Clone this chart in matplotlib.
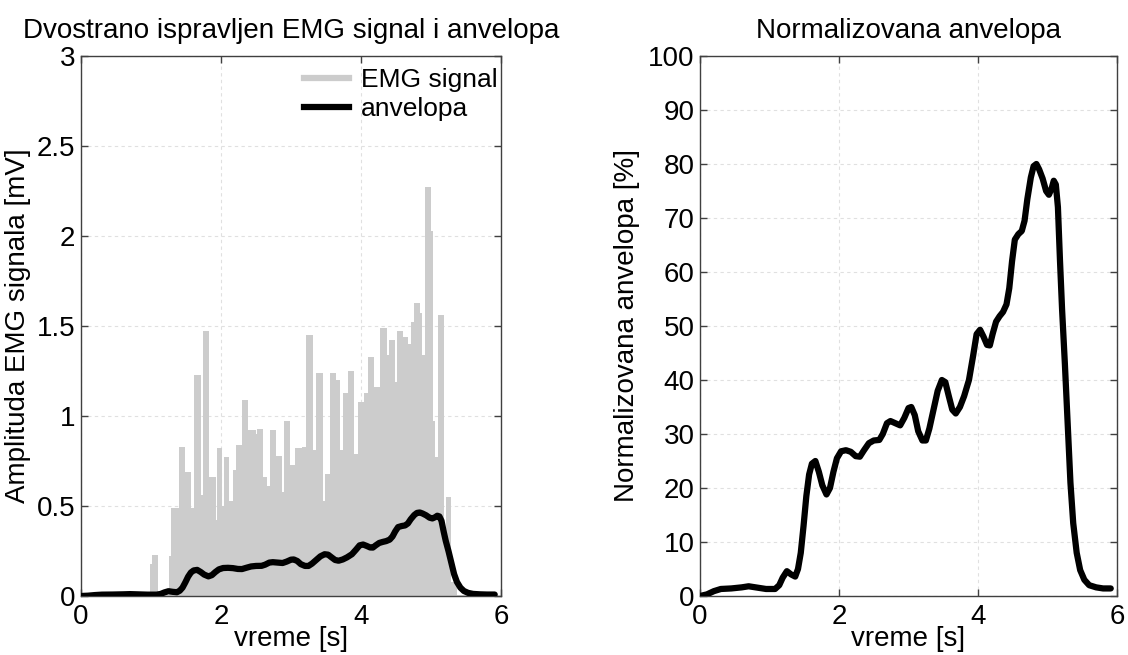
import matplotlib
matplotlib.use("Agg")
import matplotlib.pyplot as plt
from matplotlib.lines import Line2D
import numpy as np

# ---------------- data ----------------
# Rectified EMG signal: step segments (edges in s) and their peak amplitudes (mV)
emg_edges = [0.00, 0.99, 1.02, 1.10, 1.25, 1.28, 1.40, 1.48, 1.57, 1.61, 1.71,
             1.74, 1.83, 1.93, 1.94, 2.02, 2.04, 2.12, 2.17, 2.21, 2.30, 2.38,
             2.50, 2.52, 2.60, 2.65, 2.70, 2.78, 2.87, 2.90, 2.99, 3.06, 3.15,
             3.22, 3.32, 3.36, 3.45, 3.48, 3.55, 3.64, 3.70, 3.74, 3.81, 3.90,
             3.95, 4.04, 4.10, 4.18, 4.27, 4.37, 4.40, 4.48, 4.52, 4.60, 4.67,
             4.71, 4.76, 4.84, 4.87, 4.91, 5.00, 5.03, 5.06, 5.10, 5.19, 5.21,
             5.28, 5.37, 5.85]
emg_heights = [0.008, 0.18, 0.23, 0.005, 0.22, 0.49, 0.83, 0.69, 0.49, 1.23,
               0.56, 1.47, 0.66, 0.42, 0.82, 0.50, 0.77, 0.53, 0.70, 0.84, 1.09,
               0.92, 0.90, 0.93, 0.66, 0.61, 0.92, 0.78, 0.58, 0.97, 0.73, 0.82,
               0.83, 1.45, 0.81, 1.24, 0.53, 0.68, 1.24, 1.20, 0.81, 1.13, 1.25,
               0.79, 1.08, 1.13, 1.33, 1.16, 1.49, 1.34, 1.42, 1.19, 1.47, 1.44,
               1.40, 1.52, 1.63, 1.57, 1.34, 2.27, 2.03, 0.97, 0.77, 1.56, 0.30,
               0.55, 0.08, 0.008]

# Envelope time points (s) and normalized envelope (% of MVC)
env_t = [0.00, 0.10, 0.20, 0.30, 0.45, 0.60, 0.70, 0.80, 0.95, 1.08, 1.14,
         1.19, 1.25, 1.31, 1.37, 1.41, 1.45, 1.49, 1.53, 1.57, 1.61, 1.66,
         1.71, 1.76, 1.82, 1.87, 1.92, 1.97, 2.03, 2.10, 2.17, 2.24, 2.30,
         2.36, 2.43, 2.50, 2.58, 2.63, 2.69, 2.74, 2.81, 2.88, 2.94, 3.00,
         3.04, 3.09, 3.14, 3.20, 3.25, 3.30, 3.36, 3.42, 3.48, 3.53, 3.58,
         3.63, 3.68, 3.74, 3.80, 3.87, 3.93, 3.98, 4.03, 4.08, 4.13, 4.17,
         4.21, 4.26, 4.31, 4.36, 4.41, 4.45, 4.49, 4.53, 4.58, 4.63, 4.67,
         4.71, 4.76, 4.80, 4.84, 4.88, 4.93, 4.98, 5.02, 5.06, 5.09, 5.12,
         5.15, 5.18, 5.21, 5.25, 5.29, 5.33, 5.37, 5.42, 5.47, 5.53, 5.60,
         5.70, 5.80, 5.91]
env_pct = [0.0, 0.3, 0.9, 1.3, 1.4, 1.6, 1.8, 1.6, 1.3, 1.3, 2.0,
           3.4, 4.6, 4.0, 3.6, 5.0, 8.0, 13.0, 18.5, 22.5, 24.5, 25.0,
           23.0, 20.5, 18.8, 20.0, 23.0, 25.5, 26.8, 27.0, 26.7, 25.9, 25.8,
           27.0, 28.3, 28.8, 28.9, 30.0, 32.0, 32.4, 32.0, 31.6, 33.0, 34.8,
           35.0, 33.5, 30.5, 28.8, 28.8, 31.0, 34.5, 38.0, 40.0, 39.6, 37.0,
           34.5, 33.8, 35.0, 37.0, 40.0, 44.5, 48.5, 49.3, 48.0, 46.5, 46.4,
           48.5, 50.8, 51.8, 52.6, 54.0, 57.0, 62.0, 66.0, 67.0, 67.6, 69.5,
           73.5, 77.5, 79.6, 80.0, 79.0, 77.3, 75.0, 74.3, 75.5, 76.9, 76.2,
           72.0, 62.0, 53.0, 43.0, 32.0, 21.0, 13.5, 8.0, 4.8, 3.0, 2.0,
           1.6, 1.4, 1.4]
mvc_mv = 0.58  # reference (100 %) amplitude in mV

x_ticks = [0, 2, 4, 6]
y1_ticks = [0, 0.5, 1, 1.5, 2, 2.5, 3]
y1_labels = ["0", "0.5", "1", "1.5", "2", "2.5", "3"]
y2_ticks = list(range(0, 101, 10))

# ---------------- style ----------------
plt.rcParams['font.family'] = ['Liberation Sans', 'DejaVu Sans']
FS = 20
GRAY = '#cccccc'
SPINE = '#404040'

fig = plt.figure(figsize=(11.28, 6.55), dpi=100)
ax1 = fig.add_axes([81/1128, 59/655, 420/1128, 540/655])
ax2 = fig.add_axes([700/1128, 59/655, 417/1128, 540/655])


def style(ax):
    ax.set_xlim(0, 6)
    ax.set_xticks(x_ticks)
    ax.grid(True, linestyle=(0, (3, 3)), color='#e0e0e0', linewidth=0.8)
    ax.set_axisbelow(True)
    ax.tick_params(direction='in', top=True, right=True, length=5,
                   width=1, color=SPINE, labelsize=FS)
    ax.tick_params(axis='x', pad=6)
    ax.tick_params(axis='y', pad=4)
    for s in ax.spines.values():
        s.set_color(SPINE)
        s.set_linewidth(1.0)
    ax.set_xlabel('vreme [s]', fontsize=FS, labelpad=-3)


env_mv = np.array(env_pct) * mvc_mv / 100.0

# Left: rectified EMG and envelope
ax1.stairs(emg_heights, emg_edges, fill=True, color=GRAY, linewidth=0, zorder=2)
ax1.plot(env_t, env_mv, color='black', linewidth=4.5, zorder=3,
         solid_joinstyle='round', solid_capstyle='round')
ax1.set_ylim(0, 3)
ax1.set_yticks(y1_ticks)
ax1.set_yticklabels(y1_labels)
style(ax1)
ax1.set_ylabel('Amplituda EMG signala [mV]', fontsize=FS, labelpad=4)
ax1.set_title('Dvostrano ispravljen EMG signal i anvelopa', fontsize=FS, pad=13)
handles = [Line2D([], [], color=GRAY, linewidth=4.5),
           Line2D([], [], color='black', linewidth=4.5)]
ax1.legend(handles, ['EMG signal', 'anvelopa'], loc='upper right',
           bbox_to_anchor=(1.02, 1.0),
           frameon=False, fontsize=19, handlelength=1.7, handletextpad=0.45,
           borderaxespad=0.05, labelspacing=0.2)

# Right: normalized envelope
ax2.plot(env_t, env_pct, color='black', linewidth=4.5, zorder=3,
         solid_joinstyle='round', solid_capstyle='round')
ax2.set_ylim(0, 100)
ax2.set_yticks(y2_ticks)
style(ax2)
ax2.set_ylabel('Normalizovana anvelopa [%]', fontsize=FS, labelpad=6)
ax2.set_title('Normalizovana anvelopa', fontsize=FS, pad=13)

fig.savefig('out.png', dpi=100)
